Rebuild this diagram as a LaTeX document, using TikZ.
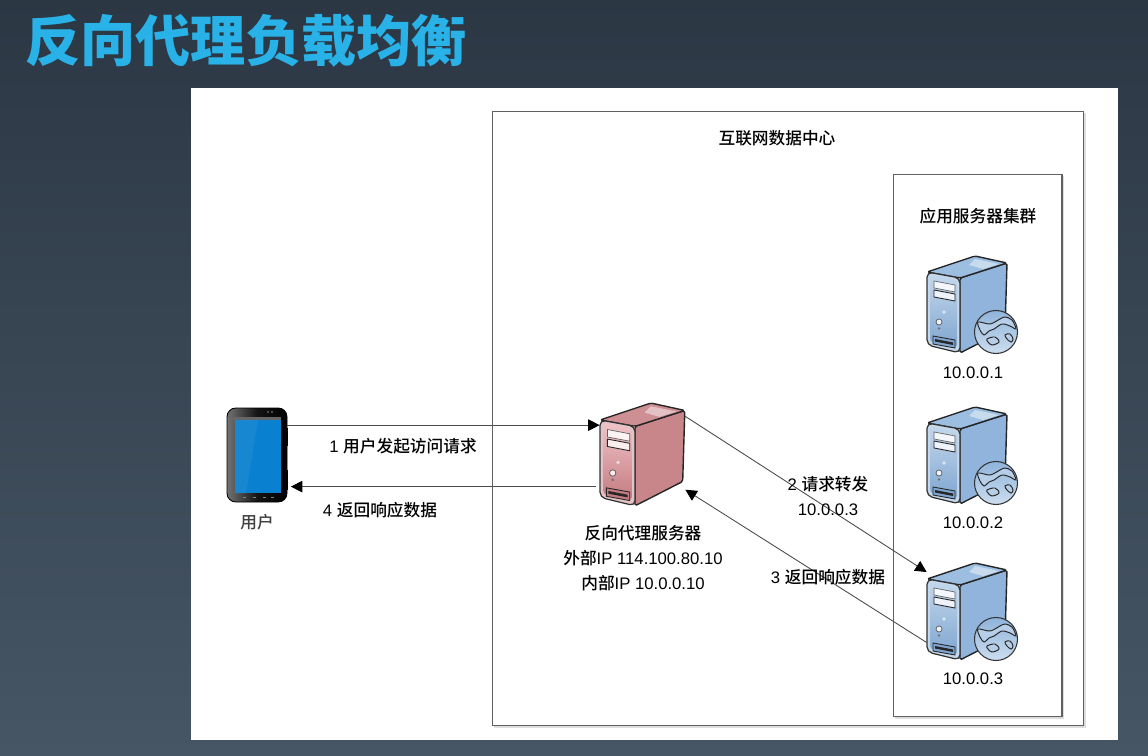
\documentclass[tikz,border=0pt]{standalone}
\usepackage{fontspec}
\setmainfont{Liberation Sans}
\newfontfamily\cjk[BoldFont=Noto Sans CJK SC Black]{Noto Sans CJK SC Medium}
\usetikzlibrary{arrows.meta,shadows}
\definecolor{SlideTop}{HTML}{2C3744}
\definecolor{SlideBot}{HTML}{465665}
\definecolor{TitleBlue}{HTML}{29B2E8}
\definecolor{FrameGray}{HTML}{606060}
\definecolor{BlueFront}{HTML}{C3D7EC}
\definecolor{BlueLow}{HTML}{7FA6D0}
\definecolor{BlueSide}{HTML}{90B4DB}
\definecolor{BlueTop}{HTML}{9CBEE0}
\definecolor{RedFront}{HTML}{EFC3C6}
\definecolor{RedLow}{HTML}{C37A80}
\definecolor{RedSide}{HTML}{C8868B}
\definecolor{RedTop}{HTML}{CE8F94}
\definecolor{ScreenBlue}{HTML}{0A80D0}
\definecolor{GlobeBlue}{HTML}{8FB4DB}

\tikzset{
    towerfront/.store in=\towerfront, towerlow/.store in=\towerlow,
    towerside/.store in=\towerside, towertop/.store in=\towertop,
    tower/.pic={
        % corpo
        \draw[black!85, fill=\towerside, line width=0.8pt, line join=round, rounded corners=1pt]
            (33,6) -- (80,-9) -- (78,58) -- (33,81) -- cycle;
        \draw[black!85, fill=\towertop, line width=0.8pt, line join=round, rounded corners=1pt]
            (0,0) -- (48,-16) -- (80,-9) -- (33,6) -- cycle;
        \fill[white, opacity=0.45] (48,-13) -- (72,-8) -- (56,-3) -- (42,-7) -- cycle;
        \draw[black!80, fill=white!55!\towerlow, line width=0.7pt, rounded corners=3pt]
            (0,0) -- (33,6) -- (33,81) -- (0,73) -- cycle;
        \shade[top color=\towerfront, bottom color=\towerlow, rounded corners=2pt]
            (3,3) -- (30,8) -- (30,76) -- (3,70) -- cycle;
        % baias
        \draw[black!60, fill=white!80!\towerfront, line width=0.4pt] (7,9) -- (28,13) -- (28,20) -- (7,16) -- cycle;
        \draw[black!85, fill=white!70!\towerfront, line width=0.5pt] (7,18) -- (28,22) -- (28,29) -- (7,25) -- cycle;
        \draw[black!85, fill=\towerlow, line width=0.5pt] (6,64) -- (28,68) -- (28,76) -- (6,72) -- cycle;
        \fill[black!85] (8,67) -- (26,70.5) -- (26,73) -- (8,69.5) -- cycle;
        \fill[white, opacity=0.6] (17,40) circle (1.8);
        \draw[black!65, fill=white!70!\towerfront, line width=0.4pt] (12,50) circle (3);
        \fill[black!55] (12,56.5) circle (1.4);
    },
    globe/.pic={
        \shade[top color=GlobeBlue, bottom color=white!55!GlobeBlue] (0,0) circle (21.5);
        \draw[black!80, line width=0.6pt] (0,0) circle (21.5);
        \draw[black!85, line width=0.55pt, fill=white!35!GlobeBlue] plot[smooth cycle, tension=0.5] coordinates
            {(-18,-10) (-6,-8) (4,-13) (9,-15) (16,-12) (20,-3) (14,-6) (6,-8) (-2,-3) (-7,-1) (-12,3) (-16,-2)};
        \draw[black!85, line width=0.55pt, fill=white!35!GlobeBlue] plot[smooth cycle, tension=0.6] coordinates
            {(-9,7) (-1,5) (3,10) (-4,13) (-8,10)};
        \draw[black!85, line width=0.55pt, fill=white!35!GlobeBlue] plot[smooth cycle, tension=0.6] coordinates
            {(9,3) (14,2) (17,7) (15,10) (11,7)};
    },
    panel/.style={draw=FrameGray, fill=white, line width=0.6pt, inner sep=0pt,
                  drop shadow={shadow xshift=1pt, shadow yshift=-1pt, fill=black!25, opacity=0.5}},
    lbl/.style={font=\fontsize{9.5}{14.2}\selectfont, text=black, align=center, inner sep=1pt},
    flow/.style={-{Triangle[length=6.5pt,width=6.5pt,black]}, black!70, line width=0.5pt},
}
% texto chines dentro de rotulos
\newcommand{\zh}[1]{{\cjk #1}}

\begin{document}
\begin{tikzpicture}[x=0.02cm, y=-0.02cm]
    \useasboundingbox (0,0) rectangle (1148,756);
    \shade[top color=SlideTop, bottom color=SlideBot, shading angle=0] (0,0) rectangle (1148,756);
    \node[font=\fontsize{31.4}{34}\selectfont\cjk\bfseries, text=TitleBlue, inner sep=0pt] (slidetitle) at (246,41) {反向代理负载均衡};
    \fill[white] (191,88) rectangle (1118,740);

    % caixas
    \node[panel, minimum width=11.84cm, minimum height=12.3cm] (datacenter) at (788,418.5) {};
    \node[panel, minimum width=3.38cm, minimum height=10.86cm] (cluster) at (977.5,445.5) {};
    \node[lbl] (dclabel) at (777,138) {\zh{互联网数据中心}};
    \node[lbl] (clusterlabel) at (978,216) {\zh{应用服务器集群}};

    % tablet
    \node[inner sep=0pt, minimum width=1.2cm, minimum height=1.88cm] (phone) at (257,455) {};
    \fill[black] (285,428) rectangle (288,446);
    \fill[black] (285,470) rectangle (288,490);
    \shade[left color=black!55, right color=black, rounded corners=5pt, middle color=black!92] (227,408) rectangle (287,502);
    \draw[black, line width=0.5pt, rounded corners=5pt] (227,408) rectangle (287,502);
    \fill[black!60] (233,417) rectangle (281,420);
    \fill[ScreenBlue] (235,420) rectangle (281,493);
    \fill[white, opacity=0.06] (235,420) -- (258,420) -- (246,493) -- (235,493) -- cycle;
    \fill[black!45] (268,412) circle (0.9) (272,412) circle (0.9);
    \foreach \keyx in {243,253,263,271}
        \fill[black!50] (\keyx,497) rectangle ++(3,1.2);
    \node[lbl, text=black!75] (phonelabel) at (257,522) {\zh{用户}};

    % servidor proxy
    \node[inner sep=0pt, minimum width=1.7cm, minimum height=2.08cm] (proxy) at (642.5,455) {};
    \pic[scale=1.06, towerfront=RedFront, towerlow=RedLow, towerside=RedSide, towertop=RedTop] at (600,420) {tower};
    \node[lbl] (proxylabel) at (643,558) {\zh{反向代理服务器}\\\zh{外部}IP 114.100.80.10\\\zh{内部}IP 10.0.0.10};

    % servidores de aplicacao
    \node[inner sep=0pt, minimum width=1.6cm, minimum height=1.94cm] (app1) at (967,304) {};
    \node[inner sep=0pt, minimum width=1.6cm, minimum height=1.94cm] (app2) at (967,455) {};
    \node[inner sep=0pt, minimum width=1.6cm, minimum height=1.94cm] (app3) at (967,611) {};
    \pic[towerfront=BlueFront, towerlow=BlueLow, towerside=BlueSide, towertop=BlueTop] at (927,272) {tower};
    \pic[towerfront=BlueFront, towerlow=BlueLow, towerside=BlueSide, towertop=BlueTop] at (927,423) {tower};
    \pic[towerfront=BlueFront, towerlow=BlueLow, towerside=BlueSide, towertop=BlueTop] at (927,579) {tower};
    \pic at (996,332) {globe};
    \pic at (996,483) {globe};
    \pic at (996,639) {globe};
    \node[lbl] (app1label) at (973,373) {10.0.0.1};
    \node[lbl] (app2label) at (973,523) {10.0.0.2};
    \node[lbl] (app3label) at (973,679) {10.0.0.3};

    % fluxo
    \draw[flow] ([yshift=17pt]phone.east) -- ([yshift=17pt]phone.east -| proxy.west);
    \draw[flow] ([yshift=-18pt,xshift=-2pt]proxy.west) -- ([yshift=-18pt,xshift=2pt]proxy.west -| phone.east);
    \draw[flow] (proxy.42) -- (app3.136);
    \draw[flow] (app3.218) -- (proxy.-39);

    \node[lbl] (step1) at (403,446) {1 \zh{用户发起访问请求}};
    \node[lbl] (step4) at (380,510) {4 \zh{返回响应数据}};
    \node[lbl] (step2) at (828,496) {2 \zh{请求转发}\\10.0.0.3};
    \node[lbl] (step3) at (828,577) {3 \zh{返回响应数据}};
\end{tikzpicture}
\end{document}
